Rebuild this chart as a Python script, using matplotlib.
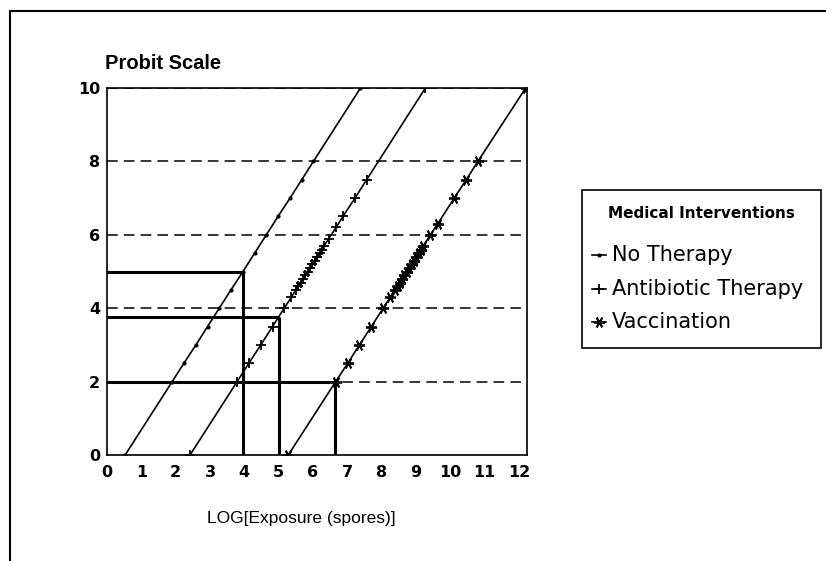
import matplotlib
matplotlib.use("Agg")
import matplotlib.pyplot as plt
from matplotlib.lines import Line2D
from matplotlib.patches import Rectangle

plt.rcParams['font.family'] = ['Liberation Sans', 'DejaVu Sans']

# ---- data ----
no_x = [0.53, 1.90, 2.24, 2.59, 2.93, 3.27, 3.61, 3.96, 4.30, 4.64, 4.98, 5.33, 5.67, 6.01, 7.38]
no_y = [0.0, 2.0, 2.5, 3.0, 3.5, 4.0, 4.5, 5.0, 5.5, 6.0, 6.5, 7.0, 7.5, 8.0, 10.0]

ab_x = [2.42, 3.79, 4.13, 4.48, 4.82, 5.16, 5.37, 5.50, 5.57, 5.64, 5.71, 5.78, 5.85, 5.91,
        5.98, 6.05, 6.12, 6.19, 6.26, 6.32, 6.46, 6.67, 6.87, 7.22, 7.56, 9.27]
ab_y = [0.0, 2.0, 2.5, 3.0, 3.5, 4.0, 4.3, 4.5, 4.6, 4.7, 4.8, 4.9, 5.0, 5.1,
        5.2, 5.3, 5.4, 5.5, 5.6, 5.7, 5.9, 6.2, 6.5, 7.0, 7.5, 10.0]

va_x = [5.28, 6.66, 7.01, 7.35, 7.70, 8.04, 8.25, 8.39, 8.46, 8.52, 8.59, 8.66, 8.73, 8.80,
        8.87, 8.94, 9.01, 9.08, 9.14, 9.21, 9.42, 9.63, 10.11, 10.46, 10.80, 12.19]
va_y = [0.0, 2.0, 2.5, 3.0, 3.5, 4.0, 4.3, 4.5, 4.6, 4.7, 4.8, 4.9, 5.0, 5.1,
        5.2, 5.3, 5.4, 5.5, 5.6, 5.7, 6.0, 6.3, 7.0, 7.5, 8.0, 10.0]

# reference (drop) lines: exposure, probit
ref_x = [3.96, 5.0, 6.65]
ref_y = [5.0, 3.75, 2.0]

x_ticks = list(range(0, 13))
y_ticks = [0, 2, 4, 6, 8, 10]
grid_y = [2, 4, 6, 8, 10]

series_labels = ["No Therapy", "Antibiotic Therapy", "Vaccination"]
legend_title = "Medical Interventions"

# ---- figure ----
W, H = 826, 561
fig = plt.figure(figsize=(W / 100, H / 100), dpi=100)
ax = fig.add_axes([0.1295, 0.189, 0.5085, 0.654])

for gy in grid_y:
    ax.axhline(gy, color='black', lw=1.1, ls=(0, (7, 4)), zorder=1)

va_marker = (6, 2, 90)
styles = [
    dict(marker='.', ms=4),
    dict(marker='+', ms=7, mew=1.3),
    dict(marker=va_marker, ms=8, mew=1.3),
]
for xs, ys, st in zip([no_x, ab_x, va_x], [no_y, ab_y, va_y], styles):
    ax.plot(xs, ys, color='black', lw=1.2, zorder=3, **st)

for rx, ry in zip(ref_x, ref_y):
    ax.plot([0, rx], [ry, ry], color='black', lw=2.2, solid_capstyle='butt', zorder=2)
    ax.plot([rx, rx], [0, ry], color='black', lw=2.2, solid_capstyle='butt', zorder=2)

ax.set_xlim(0, 12.23)
ax.set_ylim(0, 10)
ax.set_xticks(x_ticks)
ax.set_yticks(y_ticks)
ax.tick_params(length=0, labelsize=11.5, pad=7)
ax.tick_params(axis='y', pad=5)
for lab in ax.get_xticklabels() + ax.get_yticklabels():
    lab.set_family(['DejaVu Sans'])
    lab.set_fontweight('bold')
for sp in ax.spines.values():
    sp.set_linewidth(1.2)

ax.set_xlabel("LOG[Exposure (spores)]", fontsize=12.5, family=['Liberation Sans', 'DejaVu Sans'])
ax.xaxis.set_label_coords(5.65 / 12.23, -0.174)
ax.xaxis.label.set_va('center')
fig.text(0.127, 0.886, "Probit Scale", fontsize=14.5, fontweight='bold', ha='left', va='center')


# ---- legend box (pixel positions converted to figure fractions) ----
def fx(px):
    return px / W


def fy(py):
    return 1 - py / H


box_l, box_r, box_t, box_b = 582, 821, 190, 348
fig.add_artist(Rectangle((fx(box_l), fy(box_b)), fx(box_r) - fx(box_l), fy(box_t) - fy(box_b),
                         transform=fig.transFigure, facecolor='white', edgecolor='black', lw=1.2))
fig.text(fx((box_l + box_r) / 2), fy(213), legend_title, ha='center', va='center',
         family=['DejaVu Sans'], fontsize=11, fontweight='bold')
entry_y = [255, 289, 322]
for lab, st, ey in zip(series_labels, styles, entry_y):
    fig.add_artist(Line2D([fx(592), fx(599), fx(606)], [fy(ey)] * 3, color='black', lw=1.2,
                          markevery=[1], transform=fig.transFigure, **st))
    fig.text(fx(612), fy(ey), lab, ha='left', va='center', family=['DejaVu Sans'], fontsize=15)

# page frame (scanned border)
fig.add_artist(Line2D([0.012, 1.0], [0.981, 0.981], color='black', lw=1.5, transform=fig.transFigure))
fig.add_artist(Line2D([0.012, 0.012], [0.0, 0.981], color='black', lw=1.5, transform=fig.transFigure))

fig.savefig("out.png", dpi=100)
